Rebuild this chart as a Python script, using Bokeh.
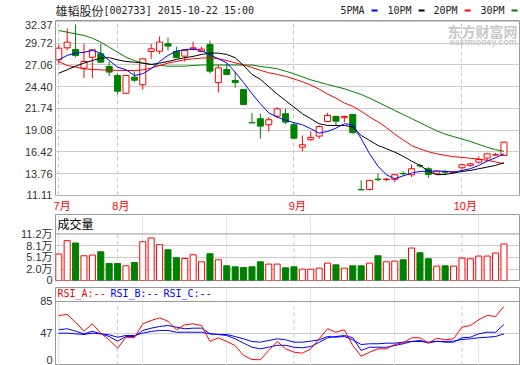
from bokeh.plotting import figure
from bokeh.layouts import column
from bokeh.models import Range1d, FixedTicker, Span, ColumnDataSource
from bokeh.embed import file_html
from bokeh.resources import INLINE
from bokeh.core.properties import value

# ---------------- data ----------------
MONTH_IDX = [0, 7, 28, 48]
MONTH_LABELS = ["7月", "8月", "9月", "10月"]
PRICE_TICKS = [11.11, 13.76, 16.42, 19.08, 21.74, 24.40, 27.06, 29.72, 32.37]
VOL_TICKS = [2.0, 5.1, 8.1, 11.2]
VOL_LABELS = ["2.0万", "5.1万", "8.1万", "11.2万"]
RSI_TICKS = [47, 85]

OPEN = [27.69, 29.15, 28.95, 26.67, 28.00, 28.42, 26.87, 25.77, 23.60, 25.56,
        24.64, 28.70, 28.74, 29.65, 28.70, 28.13, 29.03, 28.70, 29.56, 24.90,
        26.50, 25.16, 24.06, 20.00, 20.48, 19.75, 20.80, 21.09, 19.75, 17.01,
        17.92, 18.36, 20.15, 20.76, 20.60, 21.00, 11.82, 11.84, 13.10, 13.05,
        13.07, 13.80, 13.64, 14.76, 14.37, 13.76, 14.00, 13.90, 14.49, 14.78,
        15.18, 15.67, 16.05, 16.00]
HIGH = [29.52, 31.50, 32.00, 29.65, 29.00, 29.65, 27.48, 26.00, 25.80, 26.26,
        27.85, 29.65, 30.54, 30.40, 29.30, 28.90, 29.90, 29.30, 30.05, 27.08,
        27.20, 26.20, 24.10, 21.20, 21.09, 20.68, 21.90, 21.70, 20.00, 18.44,
        18.93, 19.66, 21.20, 20.88, 20.88, 21.09, 12.94, 13.00, 13.76, 13.22,
        13.70, 14.08, 14.86, 14.98, 14.57, 14.15, 14.08, 14.10, 14.98, 15.10,
        15.87, 16.25, 16.30, 17.65]
LOW = [27.20, 28.83, 28.00, 25.44, 25.44, 27.30, 25.70, 23.50, 23.55, 24.95,
       24.05, 27.81, 28.40, 28.80, 27.90, 27.48, 28.83, 28.60, 26.00, 23.70,
       25.90, 24.27, 22.20, 19.98, 18.04, 18.93, 20.56, 19.80, 18.00, 16.50,
       17.80, 18.04, 20.07, 19.66, 20.07, 18.65, 11.80, 11.72, 12.82, 12.82,
       12.74, 13.52, 13.35, 14.49, 13.27, 13.70, 13.56, 13.80, 14.25, 14.60,
       14.98, 15.40, 15.95, 15.98]
CLOSE = [29.11, 29.84, 28.22, 27.48, 28.91, 27.40, 26.18, 23.85, 25.77, 25.20,
         27.81, 29.03, 29.85, 29.36, 27.95, 28.83, 29.15, 29.00, 26.30, 26.70,
         25.90, 24.90, 22.23, 19.98, 19.58, 20.36, 21.70, 20.07, 18.11, 17.30,
         18.20, 19.54, 20.88, 20.19, 20.76, 18.77, 11.80, 12.94, 13.05, 13.10,
         13.64, 13.76, 14.37, 14.72, 13.68, 14.08, 13.95, 13.98, 14.86, 14.98,
         15.50, 16.20, 16.10, 17.62]
VOLUME = [5.94, 9.44, 8.83, 5.49, 5.67, 6.54, 3.46, 3.47, 2.86, 3.73,
          9.17, 10.15, 8.38, 7.07, 4.96, 4.78, 5.75, 3.91, 6.02, 4.44,
          2.86, 2.60, 2.41, 2.60, 3.91, 3.31, 3.31, 2.33, 2.60, 1.99,
          1.99, 2.25, 3.57, 3.12, 2.25, 2.86, 2.86, 3.57, 5.49, 3.91,
          4.09, 4.44, 7.51, 6.28, 4.70, 2.78, 2.86, 2.78, 4.88, 4.70,
          5.41, 5.41, 6.20, 8.57]
MA5 = [27.69, 28.22, 28.50, 28.60, 28.83, 28.50, 27.60, 26.79, 26.47, 25.77,
       25.98, 26.59, 27.48, 28.22, 28.74, 28.95, 28.97, 28.83, 28.30, 27.81,
       27.32, 26.18, 24.90, 23.54, 22.31, 21.20, 20.68, 20.30, 20.00, 19.75,
       19.26, 18.72, 18.93, 19.33, 19.87, 19.75, 18.04, 16.20, 14.69, 13.64,
       13.15, 13.50, 13.84, 14.04, 14.08, 14.08, 14.08, 13.96, 14.16, 14.37,
       14.78, 15.30, 15.72, 16.20]
MA10 = [26.05, 26.47, 26.91, 27.28, 27.60, 27.89, 27.94, 27.69, 27.48, 27.40,
        27.28, 27.12, 27.28, 27.48, 27.73, 27.94, 28.10, 28.34, 28.50, 28.50,
        28.34, 27.94, 26.99, 25.90, 25.30, 24.40, 23.50, 22.70, 21.90, 21.09,
        20.48, 19.87, 19.66, 19.66, 19.66, 19.46, 18.44, 17.83, 17.22, 16.82,
        16.40, 15.90, 15.30, 14.78, 14.08, 13.64, 13.68, 13.84, 14.04, 14.16,
        14.37, 14.57, 14.78, 15.11]
MA20 = [27.48, 26.99, 26.79, 26.59, 26.50, 26.45, 26.42, 26.40, 26.38, 26.38,
        26.45, 26.67, 26.99, 27.28, 27.48, 27.69, 27.81, 27.89, 27.94, 27.81,
        27.60, 27.32, 27.05, 26.75, 26.40, 26.10, 25.90, 25.65, 25.35, 25.00,
        24.60, 24.10, 23.50, 23.00, 22.40, 22.00, 21.40, 20.70, 20.10, 19.40,
        18.60, 17.90, 17.20, 16.80, 16.45, 16.20, 16.00, 15.85, 15.75, 15.65,
        15.55, 15.40, 15.20, 15.00]
MA30 = [31.27, 31.06, 30.86, 30.66, 30.33, 29.84, 29.23, 28.62, 28.00, 27.60,
        27.28, 27.12, 26.99, 26.91, 26.91, 26.91, 26.99, 27.05, 27.05, 27.05,
        27.05, 27.05, 27.05, 27.05, 26.87, 26.75, 26.59, 26.30, 25.98, 25.60,
        25.24, 24.95, 24.67, 24.40, 24.15, 23.80, 23.45, 23.00, 22.50, 22.00,
        21.50, 21.00, 20.50, 20.00, 19.50, 19.00, 18.60, 18.30, 18.00, 17.70,
        17.35, 17.00, 16.70, 16.50]
RSI_A = [68.4, 69.6, 60.4, 49.7, 58.5, 47.4, 39.5, 29.5, 42.6, 41.9,
         58.5, 62.4, 65.6, 61.6, 51.4, 57.3, 58.5, 56.5, 37.5, 41.9,
         37.5, 32.7, 20.9, 16.1, 15.8, 26.8, 37.5, 28.8, 24.8, 23.6,
         28.8, 40.7, 52.6, 48.5, 51.4, 32.7, 20.0, 24.8, 28.8, 28.8,
         33.9, 36.0, 41.9, 41.9, 35.5, 41.4, 39.5, 40.7, 54.5, 56.5,
         63.3, 68.4, 67.2, 79.1]
RSI_B = [51.4, 52.6, 49.7, 46.6, 49.7, 46.6, 43.4, 37.9, 43.4, 43.4,
         50.6, 53.3, 55.3, 56.5, 54.5, 52.6, 53.3, 53.3, 46.6, 45.8,
         44.6, 40.7, 35.5, 30.7, 28.8, 30.7, 33.0, 33.0, 30.7, 30.0,
         31.5, 36.5, 41.9, 43.4, 44.6, 42.0, 26.8, 30.7, 30.7, 30.7,
         32.7, 34.8, 37.5, 38.7, 35.8, 37.9, 36.7, 36.7, 41.9, 42.6,
         46.6, 48.5, 48.5, 57.7]
RSI_C = [47.4, 47.4, 46.6, 45.8, 47.4, 46.6, 45.4, 42.6, 44.6, 44.6,
         47.4, 49.4, 50.6, 50.6, 48.5, 48.5, 48.5, 48.5, 46.6, 45.8,
         45.8, 43.4, 40.7, 37.5, 36.7, 38.7, 40.7, 39.5, 36.7, 36.7,
         37.9, 39.5, 43.4, 42.6, 43.4, 39.5, 33.9, 34.8, 34.8, 35.5,
         35.5, 36.7, 37.5, 37.5, 36.7, 37.5, 37.5, 37.9, 39.9, 40.7,
         41.9, 42.6, 43.4, 46.6]

TITLE_NAME = "雄韬股份"
TITLE_REST = "[002733] 2015-10-22 15:00"
LEGEND_NAMES = ["5PMA", "10PM", "20PM", "30PM"]

# ---------------- styles ----------------
RED = "#ff0000"
GREEN = "#008000"
BLUE = "#0000ff"
BLACK = "#000000"
GRID = "#cccccc"
BORDER = "#999999"
LABEL = "#333333"
MONO = "DejaVu Sans Mono"
CJK = "Noto Sans CJK SC"
AXFONT = "Liberation Sans, Noto Sans CJK SC"

W = 520
LEFT = 55
RIGHT = 1
FRAME_W = W - LEFT - RIGHT
XR = Range1d(-0.39, 54.85)


def px2x(px):
    return XR.start + (px - LEFT) * (XR.end - XR.start) / FRAME_W


def py2v(py, top, height, rng):
    return rng.end - (py - top) * (rng.end - rng.start) / height


N = len(CLOSE)
idx = list(range(N))
up = [c >= o for o, c in zip(OPEN, CLOSE)]
cols = [RED if u else GREEN for u in up]
fills = ["white" if u else GREEN for u in up]
src = ColumnDataSource(dict(
    x=idx, h=HIGH, l=LOW,
    top=[max(o, c) for o, c in zip(OPEN, CLOSE)],
    bot=[min(o, c) for o, c in zip(OPEN, CLOSE)],
    col=cols, fill=fills, vol=VOLUME,
))


def style_yaxis(p, ticks, overrides=None):
    ax = p.yaxis[0]
    ax.ticker = FixedTicker(ticks=ticks)
    ax.axis_line_color = None
    ax.major_tick_line_color = None
    ax.minor_tick_line_color = None
    ax.major_tick_out = 0
    ax.major_tick_in = 0
    ax.major_label_standoff = 3
    ax.major_label_text_font = AXFONT
    ax.major_label_text_font_size = "11px"
    ax.major_label_text_color = LABEL
    if overrides:
        ax.major_label_overrides = overrides


def make_fig(h, yr, bottom, xaxis):
    p = figure(width=W, height=h, x_range=XR, y_range=yr,
               output_backend="svg", toolbar_location=None,
               min_border_left=LEFT, min_border_right=RIGHT,
               min_border_top=0, min_border_bottom=bottom,
               x_axis_location="below" if xaxis else None)
    p.outline_line_color = BORDER
    p.background_fill_color = "white"
    p.border_fill_color = "white"
    return p


# ---------------- title row (x in pixels, same frame as the panels) ----------------
ft = figure(width=W, height=20, x_range=Range1d(LEFT, W - RIGHT), y_range=Range1d(20, 0),
            output_backend="svg", toolbar_location=None,
            x_axis_location=None, y_axis_location=None,
            min_border_left=LEFT, min_border_right=RIGHT, min_border_top=0, min_border_bottom=0)
ft.outline_line_color = None
ft.grid.visible = False
ft.text(x=[55], y=[10], text=[TITLE_NAME], text_font=value(CJK),
        text_font_size="12px", text_color="#222222", text_baseline="middle")
ft.text(x=[103], y=[10], text=[TITLE_REST], text_font=value(MONO),
        text_font_size="10px", text_color="#222222", text_baseline="middle")
LEG_X = [340, 387, 433, 480]
LEG_COL = [BLUE, BLACK, RED, GREEN]
ft.text(x=LEG_X, y=[10] * 4, text=LEGEND_NAMES, text_font=value(MONO),
        text_font_size="10px", text_color="#222222", text_baseline="middle")
sw_left = [x + 6.02 * len(t) + 7 for x, t in zip(LEG_X, LEGEND_NAMES)]
ft.quad(left=sw_left, right=[l + 6 for l in sw_left], top=[9] * 4, bottom=[11] * 4,
        fill_color=LEG_COL, line_color=None)

# ---------------- price panel ----------------
PR = Range1d(11.10, 32.49)
p1 = make_fig(194, PR, 19, True)
style_yaxis(p1, PRICE_TICKS, {v: f"{v:.2f}" for v in PRICE_TICKS})
p1.ygrid.ticker = FixedTicker(ticks=PRICE_TICKS)
p1.ygrid.grid_line_color = GRID
p1.xgrid.ticker = FixedTicker(ticks=MONTH_IDX)
p1.xgrid.grid_line_color = "#c8c8c8"
p1.xgrid.grid_line_dash = "4 3"
lab_ticks = [m + 0.4 for m in MONTH_IDX]
xa = p1.xaxis[0]
xa.ticker = FixedTicker(ticks=lab_ticks)
xa.major_label_overrides = {t: s for t, s in zip(lab_ticks, MONTH_LABELS)}
xa.axis_line_color = None
xa.major_tick_line_color = None
xa.minor_tick_line_color = None
xa.major_tick_out = 0
xa.major_tick_in = 0
xa.major_label_standoff = 4
xa.major_label_text_font = AXFONT
xa.major_label_text_font_size = "11px"
xa.major_label_text_color = RED

# watermark
p1.text(x=[px2x(447)], y=[py2v(30, 20, 175, PR)], text=["东方财富网"],
        text_font=value(CJK), text_font_size="14px", text_font_style="bold",
        text_color="#c8c8c8", text_baseline="middle", level="underlay")
p1.text(x=[px2x(449)], y=[py2v(41, 20, 175, PR)], text=["eastmoney.com"],
        text_font=value("Liberation Sans"), text_font_size="9px", text_font_style="bold",
        text_color="#c8c8c8", text_baseline="middle", level="underlay")

p1.segment(x0="x", y0="h", x1="x", y1="l", line_color="col", source=src)
p1.vbar(x="x", width=0.72, top="top", bottom="bot", fill_color="fill",
        line_color="col", source=src)
p1.line(idx, MA30, line_color=GREEN, line_width=1)
p1.line(idx, MA20, line_color=RED, line_width=1)
p1.line(idx, MA10, line_color=BLACK, line_width=1)
p1.line(idx, MA5, line_color=BLUE, line_width=1)

# ---------------- volume panel ----------------
VR = Range1d(-0.98, 16.28)
p2 = make_fig(73, VR, 7, False)
vt = [VR.start + 0.01] + VOL_TICKS
style_yaxis(p2, vt, dict(zip(vt, ["0"] + VOL_LABELS)))
p2.ygrid.ticker = FixedTicker(ticks=VOL_TICKS[:-1])
p2.ygrid.grid_line_color = GRID
p2.segment(x0=MONTH_IDX, y0=[VR.start] * 4, x1=MONTH_IDX, y1=[VOL_TICKS[-1]] * 4,
           line_color="#c8c8c8", line_dash="4 3", level="underlay")
p2.add_layout(Span(location=VOL_TICKS[-1], dimension="width", line_color=BORDER))
p2.vbar(x="x", width=0.72, top="vol", bottom=VR.start, fill_color="fill",
        line_color="col", source=src)
p2.text(x=[px2x(57)], y=[py2v(222.5, 214, 66, VR)], text=["成交量"],
        text_font=value(CJK), text_font_size="12px", text_color="#000000",
        text_baseline="middle")

# ---------------- RSI panel ----------------
RR = Range1d(9.0, 101.6)
p3 = make_fig(78, RR, 0, False)
zero_pos = py2v(359, 287, 78, RR)
rt = [zero_pos] + RSI_TICKS
style_yaxis(p3, rt, dict(zip(rt, ["0", "47", "85"])))
p3.ygrid.ticker = FixedTicker(ticks=RSI_TICKS[:1])
p3.ygrid.grid_line_color = GRID
p3.segment(x0=MONTH_IDX, y0=[RR.start] * 4, x1=MONTH_IDX, y1=[RSI_TICKS[-1]] * 4,
           line_color="#c8c8c8", line_dash="4 3", level="underlay")
p3.add_layout(Span(location=RSI_TICKS[-1], dimension="width", line_color=BORDER))
p3.line(idx, RSI_C, line_color=BLUE, line_width=1)
p3.line(idx, RSI_B, line_color=BLUE, line_width=1)
p3.line(idx, RSI_A, line_color=RED, line_width=1)
hy = py2v(293, 287, 78, RR)
p3.text(x=[px2x(57), px2x(110), px2x(163)], y=[hy] * 3,
        text=["RSI_A:--", "RSI_B:--", "RSI_C:--"], text_font=value(MONO),
        text_font_size="10px", text_color=[RED, BLUE, BLUE], text_baseline="middle")

layout = column(ft, p1, p2, p3, spacing=0)
open("out.html", "w").write(file_html(layout, INLINE))
